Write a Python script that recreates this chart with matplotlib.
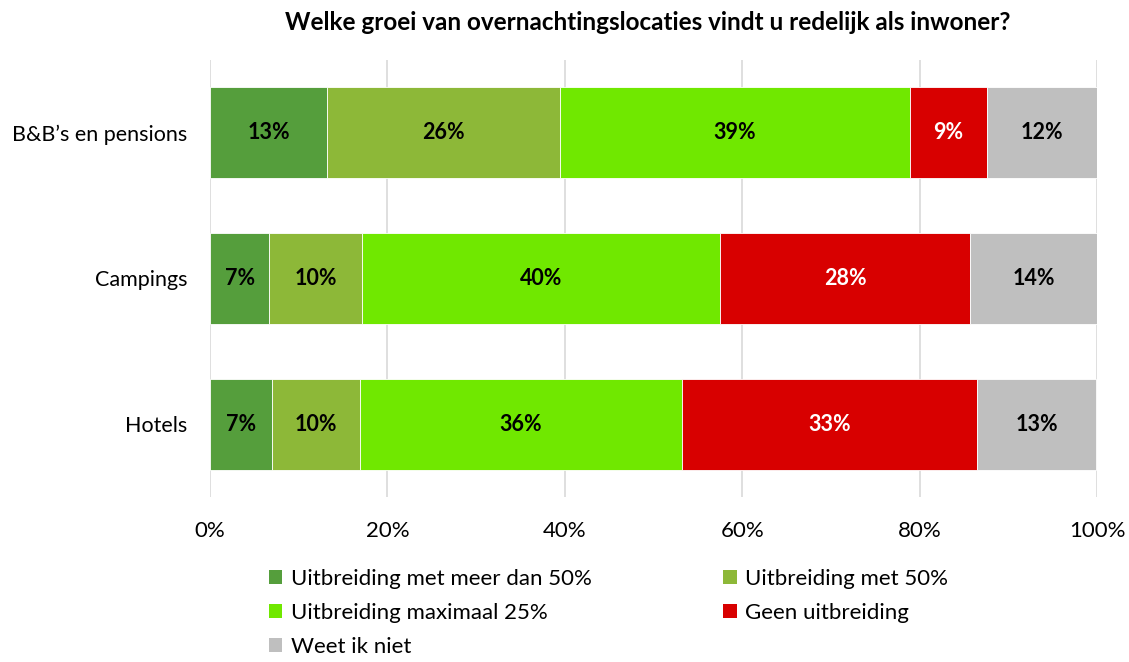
import matplotlib
matplotlib.use("Agg")
import matplotlib.pyplot as plt
from matplotlib.patches import Patch
import numpy as np

plt.rcParams['font.family'] = ['Lato', 'DejaVu Sans']

categories = ["B&B’s en pensions", "Campings", "Hotels"]
series_names = ["Uitbreiding met meer dan 50%", "Uitbreiding met 50%",
                "Uitbreiding maximaal 25%", "Geen uitbreiding", "Weet ik niet"]
meer_dan_50 = [13.2, 6.7, 7.0]
met_50 = [26.3, 10.4, 9.9]
max_25 = [39.4, 40.4, 36.3]
geen = [8.7, 28.2, 33.3]
weet_niet = [12.4, 14.3, 13.4]
colors = ["#559E3C", "#8DB838", "#70E800", "#D80000", "#BFBFBF"]
label_colors = ["black", "black", "black", "white", "black"]
xticks = [0, 20, 40, 60, 80, 100]
xticklabels = ["0%", "20%", "40%", "60%", "80%", "100%"]
title = "Welke groei van overnachtingslocaties vindt u redelijk als inwoner?"

series = [meer_dan_50, met_50, max_25, geen, weet_niet]

fig = plt.figure(figsize=(11.29, 6.62), dpi=100)
W, H = 1129, 662
ax = fig.add_axes([210 / W, 1 - 497 / H, (1097 - 210) / W, (497 - 60) / H])

y = np.arange(len(categories))
left = np.zeros(len(categories))
for vals, col, lc in zip(series, colors, label_colors):
    vals = np.array(vals)
    ax.barh(y, vals, left=left, height=0.625, color=col,
            edgecolor="white", linewidth=0.6, zorder=3)
    for yi, l, v in zip(y, left, vals):
        ax.text(l + v / 2, yi, f"{round(v):.0f}%", ha="center", va="center",
                fontsize=15.5, fontweight="bold", color=lc, zorder=4)
    left += vals

ax.set_xlim(0, 100)
ax.set_ylim(2.5, -0.5)
ax.set_yticks(y)
ax.set_yticklabels(categories, fontsize=15.5)
ax.set_xticks(xticks)
ax.set_xticklabels(xticklabels, fontsize=16)
ax.tick_params(axis="both", length=0)
ax.tick_params(axis="y", pad=16.5)
ax.tick_params(axis="x", pad=17)
for s in ax.spines.values():
    s.set_visible(False)
ax.grid(axis="x", color="#D9D9D9", linewidth=1.2, zorder=0)
ax.set_axisbelow(True)

fig.text(648 / W, 1 - 22 / H, title, ha="center", va="center",
         fontsize=17.5, fontweight="bold")

handles = [Patch(facecolor=c, edgecolor="none") for c in colors]
order = [0, 2, 4, 1, 3]
fig.legend([handles[i] for i in order], [series_names[i] for i in order],
           ncol=2, loc="upper left", bbox_to_anchor=(269 / W, 1 - 569 / H),
           frameon=False, fontsize=16, handlelength=0.6, handleheight=0.6,
           handletextpad=0.4, columnspacing=5.9, labelspacing=0.62,
           borderaxespad=0, borderpad=0)

fig.savefig("out.png", dpi=100)
